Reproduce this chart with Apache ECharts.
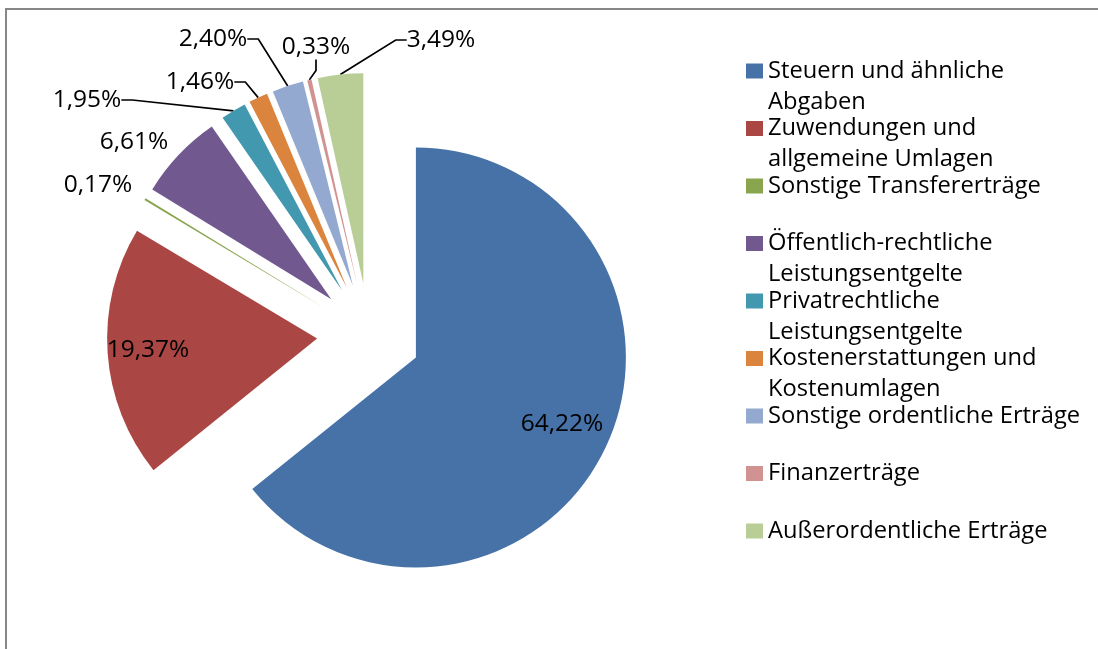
<!DOCTYPE html>
<html>
<head>
<meta charset="utf-8">
<script src="https://cdn.jsdelivr.net/npm/echarts@6.0.0/dist/echarts.min.js"></script>
<style>
  html, body { margin: 0; padding: 0; background: #ffffff; }
  #chart { width: 1098px; height: 649px; }
</style>
</head>
<body>
<div id="chart"></div>
<script>
// Ertragsstruktur (Anteile in %)
const categories = [
  "Steuern und ähnliche\nAbgaben",
  "Zuwendungen und\nallgemeine Umlagen",
  "Sonstige Transfererträge",
  "Öffentlich-rechtliche\nLeistungsentgelte",
  "Privatrechtliche\nLeistungsentgelte",
  "Kostenerstattungen und\nKostenumlagen",
  "Sonstige ordentliche Erträge",
  "Finanzerträge",
  "Außerordentliche Erträge",
];
const shares = [64.22, 19.37, 0.17, 6.61, 1.95, 1.46, 2.40, 0.33, 3.49];
const colors = ["#4672a8", "#aa4643", "#89a54e", "#71588f", "#4198af", "#db843d", "#93a9cf", "#d19392", "#b9cd96"];

// label placement like the original (text centres), and whether a leader line is drawn
const labelSpots = [
  [562, 424], [148, 350], [98, 185], [134, 142], [87, 100],
  [200, 82], [213, 39], [316, 47], [441, 40],
];
const withLeader = [false, false, false, false, true, true, true, true, true];

const FONT = "Open Sans";
const PIE_CENTER = [369, 335];
const PIE_RADIUS = 210;
const EXPLODE = 52;

function formatShare(value) {
  return value.toFixed(2).replace(".", ",") + "%";
}

// the visible, exploded slices
function buildSliceData() {
  return categories.map((name, i) => ({
    name: name,
    value: shares[i],
    selected: true,
    itemStyle: { color: colors[i] },
  }));
}

// invisible twin pie whose outer rim sits on the exploded rims; it carries the labels
function buildLabelData() {
  return categories.map((name, i) => ({
    name: name,
    value: shares[i],
    itemStyle: { color: "rgba(0,0,0,0)" },
    labelLine: { show: withLeader[i] },
  }));
}

function initChart() {
  const chart = echarts.init(document.getElementById("chart"), null, { renderer: "canvas" });
  chart.setOption({
    animation: false,
    backgroundColor: "#ffffff",
    graphic: [
      {
        type: "rect",
        shape: { x: 6, y: 9, width: 1200, height: 800 },
        style: { fill: "none", stroke: "#878787", lineWidth: 2 },
        silent: true,
      },
    ],
    legend: {
      orient: "vertical",
      left: 746,
      top: 24.5,
      padding: 0,
      itemGap: -35.5,
      itemWidth: 17,
      itemHeight: 15,
      icon: "rect",
      selectedMode: false,
      formatter: (name) => "\n" + name + (name.indexOf("\n") >= 0 ? "" : "\n"),
      textStyle: { fontFamily: FONT, fontSize: 23.7, lineHeight: 31, color: "#000000" },
      data: categories.map((name, i) => ({ name: name, itemStyle: { color: colors[i] } })),
    },
    series: [
      {
        type: "pie",
        center: PIE_CENTER,
        radius: PIE_RADIUS,
        startAngle: 90,
        clockwise: true,
        selectedMode: "multiple",
        selectedOffset: EXPLODE,
        silent: true,
        emphasis: { disabled: true },
        itemStyle: { borderWidth: 0 },
        label: { show: false },
        labelLine: { show: false },
        data: buildSliceData(),
      },
      {
        type: "pie",
        center: PIE_CENTER,
        radius: PIE_RADIUS + EXPLODE,
        startAngle: 90,
        clockwise: true,
        silent: true,
        avoidLabelOverlap: false,
        emphasis: { disabled: true },
        itemStyle: { borderWidth: 0 },
        label: {
          show: true,
          position: "outside",
          formatter: (p) => formatShare(p.value),
          fontFamily: FONT,
          fontSize: 24.5,
          color: "#000000",
        },
        labelLine: {
          show: true,
          length: 10,
          length2: 11,
          lineStyle: { color: "#000000", width: 1.7 },
        },
        labelLayout: (params) => {
          const spot = labelSpots[params.dataIndex];
          return { x: spot[0], y: spot[1], align: "center", verticalAlign: "middle" };
        },
        data: buildLabelData(),
      },
    ],
  });
}

document.addEventListener("DOMContentLoaded", initChart);
</script>
</body>
</html>
